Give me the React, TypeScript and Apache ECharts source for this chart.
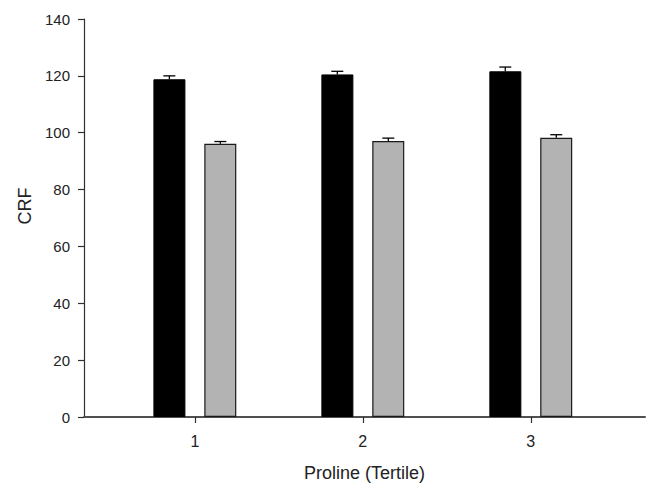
import React, { useEffect, useRef } from "react";
import * as echarts from "echarts";

const categories = [1, 2, 3];
const groupA = [118.8, 120.5, 121.6];
const groupAErr = [1.2, 1.1, 1.5];
const groupB = [96.1, 97.1, 98.2];
const groupBErr = [0.8, 1.0, 1.1];
const yTicks = [0, 20, 40, 60, 80, 100, 120, 140];

const FONT = "'Liberation Sans', Arial, sans-serif";

function errSeries(vals: number[], errs: number[], offset: number, color: string) {
  return {
    type: "custom",
    z: 5,
    data: categories.map((c, i) => [c, vals[i], errs[i]]),
    encode: { x: 0, y: 1 },
    renderItem: (params: any, api: any) => {
      const x = api.value(0);
      const v = api.value(1);
      const e = api.value(2);
      const p0 = api.coord([x, v]);
      const p1 = api.coord([x, v + e]);
      const cx = p0[0] + offset;
      return {
        type: "group",
        children: [
          {
            type: "line",
            shape: { x1: cx, y1: p0[1], x2: cx, y2: p1[1] },
            style: { stroke: color, lineWidth: 1.3 },
          },
          {
            type: "line",
            shape: { x1: cx - 6, y1: p1[1], x2: cx + 6, y2: p1[1] },
            style: { stroke: color, lineWidth: 1.3 },
          },
        ],
      };
    },
  };
}

export default function App() {
  const ref = useRef<HTMLDivElement>(null);
  useEffect(() => {
    if (!ref.current) return;
    const chart = echarts.init(ref.current, undefined, { renderer: "svg" });
    chart.setOption({
      animation: false,
      backgroundColor: "#ffffff",
      grid: { left: 84, top: 19, right: 6, bottom: 67.5, containLabel: false },
      xAxis: {
        type: "value",
        min: 0.34,
        max: 3.68,
        name: "Proline (Tertile)",
        nameLocation: "middle",
        nameGap: 47,
        nameTextStyle: { fontFamily: FONT, fontSize: 18, color: "#222" },
        axisLine: { show: true, onZero: false, lineStyle: { color: "#505050", width: 2 } },
        axisTick: { show: true, customValues: categories, length: 6, lineStyle: { color: "#303030", width: 1.2 } },
        axisLabel: {
          customValues: categories,
          fontFamily: FONT,
          fontSize: 16,
          color: "#222",
          margin: 16,
        },
        splitLine: { show: false },
      },
      yAxis: {
        type: "value",
        min: 0,
        max: 140,
        interval: 20,
        name: "CRF",
        nameLocation: "middle",
        nameGap: 49,
        nameRotate: 90,
        nameTextStyle: { fontFamily: FONT, fontSize: 18, color: "#222", padding: [0, 0, 0, 24] },
        axisLine: { show: true, lineStyle: { color: "#303030", width: 1.2 } },
        axisTick: { show: true, length: 6, lineStyle: { color: "#303030", width: 1.2 } },
        axisLabel: {
          fontFamily: FONT,
          fontSize: 15,
          color: "#222",
          margin: 14,
          formatter: (v: number) => (yTicks.includes(v) ? String(v) : ""),
        },
        splitLine: { show: false },
      },
      series: [
        {
          type: "bar",
          barWidth: 32,
          barGap: "59%",
          data: categories.map((c, i) => [c, groupA[i]]),
          itemStyle: { color: "#000000", borderColor: "#000000", borderWidth: 1 },
        },
        {
          type: "bar",
          barWidth: 32,
          data: categories.map((c, i) => [c, groupB[i]]),
          itemStyle: { color: "#b3b3b3", borderColor: "#1a1a1a", borderWidth: 1.2 },
        },
        errSeries(groupA, groupAErr, -25.5, "#000000"),
        errSeries(groupB, groupBErr, 25.5, "#000000"),
      ],
    });
    return () => chart.dispose();
  }, []);
  return (
    <div
      ref={ref}
      style={{ position: "fixed", left: 0, top: 0, width: 651, height: 487 }}
    />
  );
}
